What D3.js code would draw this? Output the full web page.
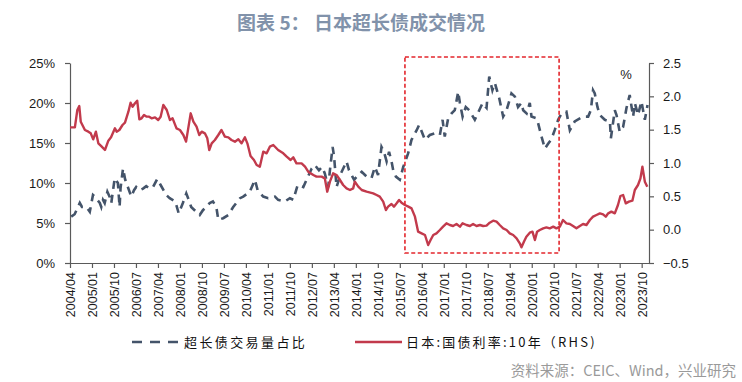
<!DOCTYPE html>
<html><head><meta charset="utf-8">
<script src="https://cdn.jsdelivr.net/npm/d3@7"></script>
<style>
html,body{margin:0;padding:0;background:#fff;}
svg{display:block;}
</style></head>
<body>
<svg id="chart" width="742" height="382"></svg>
<script>
// ---- DATA ----
const titleText = "图表 5：  日本超长债成交情况";
const sourceText = "资料来源：CEIC、Wind，兴业研究";
const seriesNames = ["超长债交易量占比", "日本:国债利率:10年（RHS)"];
// x = months since 2004/04
const tickMonths = [0,9,18,27,36,45,54,63,72,81,90,99,108,117,126,135,144,153,162,171,180,189,198,207,216,225,234];
const tickLabels = ["2004/04","2005/01","2005/10","2006/07","2007/04","2008/01","2008/10","2009/07","2010/04","2011/01","2011/10","2012/07","2013/04","2014/01","2014/10","2015/07","2016/04","2017/01","2017/10","2018/07","2019/04","2020/01","2020/10","2021/07","2022/04","2023/01","2023/10"];
const leftTicks = [0,5,10,15,20,25];
const rightTicks = [-0.5,0,0.5,1,1.5,2,2.5];

// 超长债交易量占比 (%), left axis
const shareMonths = [0.5,1.9,4.0,4.9,6.7,8.1,9.4,10.1,12.2,12.8,13.5,14.2,15.3,16.2,16.9,18.3,19.6,20.3,20.7,21.7,22.6,25.1,26.2,27.1,28.5,29.9,31.2,32.6,34.0,35.7,37.1,39.4,40.8,43.1,44.5,46.2,47.6,48.6,49.6,51.0,53.1,54.4,55.8,57.2,58.5,59.9,60.7,62.7,64.8,66.8,69.6,70.9,73.6,75.7,76.8,79.1,81.1,83.9,85.2,88.0,90.0,91.4,93.2,95.5,98.9,100.2,101.9,103.2,104.3,105.7,106.4,107.5,108.1,109.1,110.9,113.2,114.2,116.3,118.0,119.4,121.4,123.4,124.8,126.1,127.5,128.5,129.6,130.6,131.6,132.3,133.4,135.0,136.4,138.4,139.8,141.9,142.9,145.3,147.3,149.3,151.4,152.5,153.4,154.8,156.2,157.5,158.9,159.6,160.7,162.0,163.4,165.7,168.9,170.5,171.6,172.9,173.9,175.7,177.3,178.7,180.7,182.1,183.4,184.8,185.5,186.9,188.2,188.9,190.9,191.6,193.0,194.4,195.7,197.1,198.4,199.8,201.2,203.2,204.6,206.6,210.0,212.1,213.2,214.1,214.8,215.9,216.9,218.9,221.0,221.4,223.0,223.7,225.0,226.4,227.8,229.1,230.5,231.2,232.5,233.9,235.3,236.4];
const shareValues = [5.8,6.1,7.5,7.0,7.0,6.4,8.5,8.3,7.5,7.0,7.9,7.5,8.9,8.3,7.5,10.6,10.0,7.0,9.4,11.8,10.4,8.3,9.1,9.5,9.1,9.3,9.6,9.3,9.5,10.5,9.75,8.5,8.1,7.7,6.2,7.5,8.7,7.9,7.0,6.6,6.0,6.6,7.0,7.5,7.7,7.0,5.4,5.6,6.0,7.0,8.1,8.3,8.9,10.4,9.1,8.3,8.1,8.3,7.9,7.7,8.1,7.9,9.75,9.5,11.8,12.25,11.6,12.0,11.2,9.5,11.6,14.5,13.3,9.5,11.2,12.7,11.6,10.4,11.0,11.4,10.8,10.6,12.0,11.0,14.5,13.9,12.7,13.9,12.7,11.6,10.8,10.4,12.0,13.7,15.4,16.6,17.25,15.4,16.0,16.2,16.0,17.9,15.8,18.1,18.7,19.1,21.4,20.0,18.3,19.5,19.1,17.9,20.0,19.4,23.3,21.6,22.5,20.6,18.3,19.1,21.2,20.8,19.5,20.0,19.1,18.7,20.0,18.3,18.1,17.5,15.8,14.3,14.9,15.5,16.6,17.9,18.7,18.9,16.6,17.7,18.3,18.3,19.1,21.6,21.2,19.5,18.5,17.9,17.7,15.6,19.1,18.5,16.4,17.0,19.4,21.0,18.3,20.0,18.5,20.2,17.9,19.75];

// 日本:国债利率:10年 (%), right axis
const yieldMonths = [0,2.0,3.0,3.8,4.4,6.1,7.5,8.5,9.5,10.6,11.6,13.0,14.3,15.7,16.8,18.4,19.1,20.2,21.5,22.5,23.9,24.8,25.6,26.6,27.5,28.4,29.3,30.3,31.4,32.4,33.4,34.8,36.1,37.1,38.2,39.6,40.9,42.0,43.6,45.0,46.4,47.5,48.4,49.4,50.5,51.8,52.9,53.9,55.2,56.2,57.0,58.0,59.3,60.7,62.0,63.4,64.8,66.1,67.5,68.9,70.2,71.6,72.6,73.9,75.3,76.4,77.7,79.1,80.5,81.8,83.2,85.2,87.3,88.7,90.3,91.4,92.7,94.8,96.2,97.5,99.6,100.9,103.0,104.3,105.3,106.4,107.7,109.1,110.5,111.8,113.2,114.6,115.9,116.6,118.0,119.4,121.4,124.1,125.5,126.8,128.2,129.3,130.2,131.6,132.6,133.7,134.7,135.7,137.1,138.5,139.8,141.2,142.5,143.9,145.3,146.6,147.6,148.7,150.0,151.4,152.7,154.1,155.5,156.8,158.2,159.6,160.7,162.3,163.7,165.0,166.4,167.8,169.1,170.5,171.8,173.2,174.6,175.9,177.3,178.7,180.0,181.4,182.8,184.1,184.8,185.8,186.8,188.2,189.3,190.3,191.2,192.3,193.7,195.0,196.4,197.8,199.1,200.5,201.8,203.2,204.6,205.9,207.3,208.7,210.0,211.4,212.8,214.1,215.5,216.9,218.2,219.3,220.3,221.6,223.0,224.3,225.3,226.4,227.5,228.8,230.2,231.2,232.5,233.5,234.3,235.3,236.3];
const yieldValues = [1.535,1.535,1.795,1.855,1.62,1.495,1.47,1.445,1.355,1.47,1.295,1.245,1.195,1.335,1.385,1.52,1.47,1.495,1.57,1.605,1.77,1.905,1.845,1.895,1.935,1.655,1.67,1.72,1.695,1.695,1.67,1.685,1.645,1.695,1.87,1.795,1.645,1.67,1.52,1.495,1.42,1.32,1.52,1.745,1.62,1.545,1.42,1.47,1.445,1.37,1.195,1.295,1.345,1.42,1.495,1.395,1.385,1.345,1.32,1.355,1.295,1.385,1.295,1.105,1.045,0.97,0.945,1.17,1.145,1.245,1.27,1.195,1.145,1.095,1.045,1.085,0.995,0.995,0.945,0.87,0.82,0.795,0.795,0.77,0.57,0.72,0.845,0.82,0.745,0.67,0.62,0.595,0.62,0.72,0.645,0.595,0.57,0.545,0.52,0.495,0.42,0.295,0.345,0.385,0.345,0.395,0.445,0.405,0.37,0.345,0.32,0.195,-0.03,-0.055,-0.08,-0.23,-0.155,-0.08,-0.055,-0.005,0.045,0.095,0.07,0.055,0.085,0.045,0.095,0.07,0.055,0.085,0.055,0.07,0.055,0.06,0.105,0.135,0.12,0.07,0.02,-0.005,-0.055,-0.08,-0.13,-0.205,-0.265,-0.18,-0.105,-0.045,-0.03,-0.155,-0.03,-0.005,0.02,0.035,0.02,0.045,0.02,0.045,0.145,0.095,0.085,0.055,0.02,0.055,0.085,0.07,0.145,0.195,0.22,0.245,0.23,0.195,0.245,0.27,0.245,0.37,0.505,0.52,0.395,0.42,0.435,0.595,0.67,0.77,0.945,0.72,0.645];

// highlighted period (months since 2004/04) and its vertical span on the left axis (%)
const highlightMonths = [137.1, 200.2];
const highlightShare = [1.25, 25.75];

// ---- CHART ----
const svg = d3.select("#chart");
const plotL = 70, plotR = 649, plotT = 63, plotB = 263;
const x = d3.scaleLinear().domain([0, 237]).range([plotL, plotR]);
const yL = d3.scaleLinear().domain([0, 25]).range([plotB, plotT]);
const yR = d3.scaleLinear().domain([-0.5, 2.5]).range([plotB, plotT]);

const axisColor = "#5a5a5a";
const labelFont = "'Liberation Sans', Arial, sans-serif";
const cjkFont = "'Noto Sans CJK SC', 'Noto Sans', sans-serif";

// title
svg.append("text").attr("x", 361).attr("y", 30).attr("text-anchor", "middle")
  .attr("font-family", cjkFont).attr("font-weight", "bold").attr("font-size", 19)
  .attr("fill", "#8192aa").text(titleText);

// axes
function styleAxis(g) {
  g.select(".domain").attr("stroke", axisColor).attr("stroke-width", 1.2);
  g.selectAll(".tick line").attr("stroke", axisColor).attr("stroke-width", 1.2);
  g.selectAll("text").attr("font-family", labelFont).attr("font-size", 13).attr("fill", "#1a1a1a");
}
const gL = svg.append("g").attr("transform", `translate(${plotL},0)`)
  .call(d3.axisLeft(yL).tickValues(leftTicks).tickFormat(d => d + "%").tickSize(5).tickSizeOuter(0).tickPadding(10));
styleAxis(gL);
const gR = svg.append("g").attr("transform", `translate(${plotR},0)`)
  .call(d3.axisRight(yR).tickValues(rightTicks).tickFormat(d3.format(".1f")).tickSize(5).tickSizeOuter(0).tickPadding(9));
styleAxis(gR);
const gX = svg.append("g").attr("transform", `translate(0,${plotB})`)
  .call(d3.axisBottom(x).tickValues(tickMonths).tickFormat((d, i) => tickLabels[i]).tickSize(5).tickSizeOuter(0));
styleAxis(gX);
gX.selectAll("text").attr("transform", "rotate(-90)").attr("text-anchor", "end")
  .attr("x", -9).attr("y", 0).attr("dy", "0.36em").attr("font-size", 12.5);

// % unit label
svg.append("text").attr("x", 626).attr("y", 79).attr("text-anchor", "middle")
  .attr("font-family", labelFont).attr("font-size", 13).attr("fill", "#1a1a1a").text("%");

// series
const blue = "#44546a", red = "#c23a4c";
const shareLine = d3.line().x(d => x(d[0])).y(d => yL(d[1]));
const yieldLine = d3.line().x(d => x(d[0])).y(d => yR(d[1]));
svg.append("path").datum(shareMonths.map((m, i) => [m, shareValues[i]]))
  .attr("d", shareLine).attr("fill", "none").attr("stroke", blue)
  .attr("stroke-width", 2.6).attr("stroke-dasharray", "8,6");
svg.append("path").datum(yieldMonths.map((m, i) => [m, yieldValues[i]]))
  .attr("d", yieldLine).attr("fill", "none").attr("stroke", red)
  .attr("stroke-width", 2.4).attr("stroke-linejoin", "round");

// highlight box
svg.append("rect")
  .attr("x", x(highlightMonths[0])).attr("y", yL(highlightShare[1]))
  .attr("width", x(highlightMonths[1]) - x(highlightMonths[0]))
  .attr("height", yL(highlightShare[0]) - yL(highlightShare[1]))
  .attr("fill", "none").attr("stroke", "#e3262c").attr("stroke-width", 1.6)
  .attr("stroke-dasharray", "4,2.5");

// legend
const lg = svg.append("g");
lg.append("line").attr("x1", 132).attr("x2", 180).attr("y1", 342).attr("y2", 342)
  .attr("stroke", blue).attr("stroke-width", 2.6).attr("stroke-dasharray", "10,8");
lg.append("text").attr("x", 184).attr("y", 346.5).attr("font-family", cjkFont).attr("font-size", 13)
  .attr("letter-spacing", 2.4).attr("fill", "#111").text(seriesNames[0]);
lg.append("line").attr("x1", 355).attr("x2", 402).attr("y1", 342).attr("y2", 342)
  .attr("stroke", red).attr("stroke-width", 2.6);
lg.append("text").attr("x", 406).attr("y", 346.5).attr("font-family", cjkFont).attr("font-size", 13)
  .attr("letter-spacing", 2.2).attr("fill", "#111").text(seriesNames[1]);

// source
svg.append("text").attr("x", 736).attr("y", 376).attr("text-anchor", "end")
  .attr("font-family", cjkFont).attr("font-size", 14.5).attr("fill", "#9a9a9a").text(sourceText);
</script>
</body></html>
